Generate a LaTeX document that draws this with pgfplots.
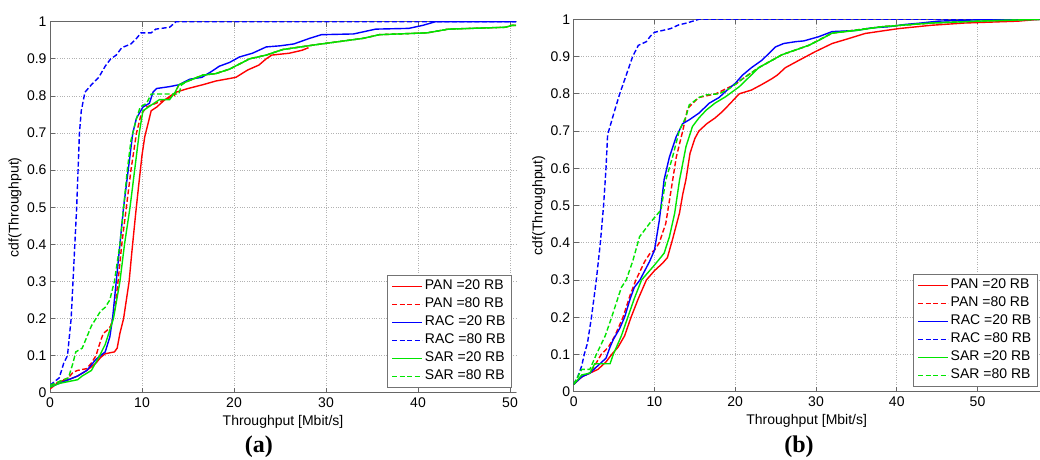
\documentclass[border=0pt]{standalone}
\usepackage{fontspec}
\setmainfont{Liberation Sans}
\newfontfamily\serifb{Liberation Serif}
\usepackage{pgfplots}
\pgfplotsset{compat=1.18}
\definecolor{mr}{rgb}{1,0,0}
\definecolor{mb}{rgb}{0,0,1}
\definecolor{mg}{rgb}{0,0.9,0}
\newcommand{\lblfont}{\fontsize{14}{16}\selectfont}
\newcommand{\tkfont}{\fontsize{14}{16}\selectfont}
\pgfplotsset{
  legend image code/.code={\draw[#1] (0pt,0pt) -- (30pt,0pt);},
  cdfaxis/.style={
    scale only axis, anchor=south west,
    xmin=0, ymin=0, ymax=1,
    xtick={0,10,20,30,40,50},
    ytick={0,0.1,0.2,0.3,0.4,0.5,0.6,0.7,0.8,0.9,1},
    yticklabels={0,0.1,0.2,0.3,0.4,0.5,0.6,0.7,0.8,0.9,1},
    grid=major, major grid style={dotted, black!30, line width=0.7pt},
    axis x line=box, axis y line=left,
    axis line style={black!60, line width=1pt, -},
    tick style={black!60, line width=0.8pt},
    major tick length=5pt, tick align=inside,
    tick label style={font=\tkfont},
    /pgf/number format/assume math mode=true,
    xticklabel style={yshift=-1pt},
    xlabel={Throughput [Mbit/s]},
    ylabel={cdf(Throughput)},
    every axis x label/.style={at={(rel axis cs:0.5,0)}, anchor=center, yshift=-29pt, font=\lblfont},
    every axis y label/.style={at={(rel axis cs:0,0.5)}, xshift=-35pt, rotate=90, anchor=center, font=\lblfont},
    legend cell align=left,
    legend style={font=\tkfont, draw=black!55, line width=1.2pt, text=black,
      anchor=south east, inner xsep=4pt, inner ysep=2pt,
      nodes={inner xsep=2pt, inner ysep=2.5pt, text height=10pt, text depth=3pt}},
  }
}
\begin{document}
\begin{tikzpicture}[x=1pt,y=1pt]
\path[use as bounding box] (0,0) rectangle (1040,459);
% ---------------- (a) ----------------
\begin{axis}[cdfaxis, at={(50pt,66.3pt)}, width=466pt, height=371pt, xmax=50.65,
  legend style={at={(rel axis cs:0.9915,0.0127)}}]
\addplot[color=mr, line width=1.4pt] coordinates {(0,0.01)(0.5,0.02)(1,0.03)(2,0.035)(3,0.045)(4,0.06)(5,0.08)(5.5,0.095)(6,0.105)(7,0.11)(7.3,0.12)(7.6,0.16)(8,0.2)(8.3,0.25)(8.6,0.3)(8.9,0.38)(9.3,0.48)(9.6,0.55)(10,0.64)(10.3,0.69)(10.6,0.72)(11,0.76)(11.6,0.77)(12.5,0.79)(13.7,0.81)(15,0.82)(16.6,0.83)(18,0.84)(20.2,0.85)(21.5,0.87)(22.7,0.883)(23.5,0.9)(24.1,0.91)(26,0.915)(27.4,0.923)(28.1,0.93)};
\addlegendentry{PAN =20 RB}
\addplot[color=mr, line width=1.4pt, dash pattern=on 5pt off 2.5pt] coordinates {(0,0.015)(1,0.03)(2,0.04)(2.5,0.055)(3,0.06)(4,0.065)(4.5,0.08)(5,0.1)(5.5,0.14)(5.8,0.16)(6.3,0.17)(6.6,0.18)(7,0.22)(7.4,0.3)(7.8,0.4)(8.3,0.5)(8.8,0.6)(9.4,0.7)(9.9,0.75)(10.5,0.77)(11.5,0.78)(12.5,0.79)(13.5,0.8)(14,0.83)(15,0.84)(16.6,0.856)(18,0.86)(19.5,0.872)(21.7,0.9)(23.5,0.91)(25.3,0.925)(28.9,0.938)(31,0.945)(34,0.955)(35.8,0.965)(41,0.97)(43.3,0.98)(49.5,0.985)(50.2,0.99)(50.65,0.99)};
\addlegendentry{PAN =80 RB}
\addplot[color=mb, line width=1.4pt] coordinates {(0,0.015)(1,0.025)(2,0.035)(3,0.045)(4,0.06)(5,0.09)(6,0.11)(6.5,0.15)(6.8,0.2)(7.2,0.3)(7.6,0.4)(8,0.5)(8.5,0.6)(9,0.7)(9.4,0.74)(10.1,0.77)(10.8,0.78)(11.2,0.81)(11.6,0.82)(13,0.825)(14,0.83)(15.2,0.845)(16.5,0.85)(17.5,0.865)(18.4,0.88)(19.5,0.89)(20.6,0.905)(22,0.915)(23.5,0.932)(25,0.935)(26.5,0.94)(28.2,0.955)(29.5,0.965)(33,0.967)(35.4,0.98)(39,0.982)(40.5,0.99)(41.9,1.0)(50.65,1.0)};
\addlegendentry{RAC =20 RB}
\addplot[color=mb, line width=1.4pt, dash pattern=on 5pt off 2.5pt] coordinates {(0,0.02)(1,0.04)(1.5,0.08)(1.9,0.1)(2.1,0.15)(2.3,0.2)(2.5,0.3)(2.7,0.4)(2.9,0.5)(3.05,0.6)(3.2,0.7)(3.4,0.76)(3.8,0.81)(4.5,0.83)(5.3,0.85)(6,0.88)(6.6,0.9)(7.2,0.91)(7.8,0.93)(8.8,0.94)(9.4,0.955)(9.9,0.97)(11,0.97)(11.5,0.98)(13,0.985)(13.7,1.0)(50.65,1.0)};
\addlegendentry{RAC =80 RB}
\addplot[color=mg, line width=1.4pt] coordinates {(0,0.015)(1,0.025)(2,0.03)(3,0.035)(3.5,0.045)(4.5,0.06)(5.4,0.1)(6,0.13)(6.9,0.2)(7.6,0.3)(8.1,0.4)(8.7,0.5)(9.2,0.6)(9.7,0.7)(10.1,0.76)(11,0.775)(11.9,0.79)(13,0.79)(13.6,0.81)(14,0.83)(15,0.84)(16.6,0.856)(18,0.86)(19.5,0.872)(21.7,0.9)(23.5,0.91)(25.3,0.925)(28.9,0.938)(31,0.945)(34,0.955)(35.8,0.965)(41,0.97)(43.3,0.98)(49.5,0.985)(50.2,0.99)(50.65,0.99)};
\addlegendentry{SAR =20 RB}
\addplot[color=mg, line width=1.4pt, dash pattern=on 5pt off 2.5pt] coordinates {(0,0.02)(1,0.03)(2,0.04)(2.5,0.08)(2.8,0.11)(3.5,0.12)(4,0.15)(4.5,0.18)(5,0.2)(5.5,0.22)(6,0.23)(6.5,0.25)(7,0.3)(7.3,0.35)(7.6,0.4)(8,0.5)(8.4,0.6)(8.8,0.68)(9.3,0.73)(9.8,0.77)(10.5,0.78)(11,0.805)(14,0.805)(14.3,0.83)(15,0.84)(16.6,0.856)(18,0.86)(19.5,0.872)(21.7,0.9)(23.5,0.91)(25.3,0.925)(28.9,0.938)(31,0.945)(34,0.955)(35.8,0.965)(41,0.97)(43.3,0.98)(49.5,0.985)(50.2,0.99)(50.65,0.99)};
\addlegendentry{SAR =80 RB}
\end{axis}
% ---------------- (b) ----------------
\begin{axis}[cdfaxis, at={(573.7pt,67.3pt)}, width=466pt, height=372.4pt, xmax=57.7,
  legend style={at={(rel axis cs:0.996,0.0126)}}]
\addplot[color=mr, line width=1.4pt] coordinates {(0,0.02)(1,0.04)(2,0.05)(3,0.06)(4,0.08)(4.7,0.1)(5.5,0.12)(6.3,0.15)(7.1,0.2)(8,0.25)(9,0.3)(10,0.325)(11,0.345)(11.6,0.36)(12.25,0.41)(13.1,0.48)(13.5,0.53)(13.9,0.57)(14.4,0.64)(15,0.68)(15.5,0.70)(16.5,0.72)(17.5,0.735)(18.4,0.752)(19.2,0.77)(20.5,0.80)(22,0.81)(23.3,0.825)(24.5,0.84)(25.2,0.85)(26.2,0.87)(27.9,0.89)(29.9,0.913)(32,0.935)(34,0.948)(36.1,0.962)(40.2,0.975)(44.3,0.984)(48.4,0.99)(55,0.995)(57.7,1.0)};
\addlegendentry{PAN =20 RB}
\addplot[color=mr, line width=1.4pt, dash pattern=on 5pt off 2.5pt] coordinates {(0,0.02)(1,0.04)(2,0.05)(2.6,0.07)(3.4,0.1)(4.3,0.12)(5.1,0.15)(6.1,0.2)(7,0.26)(7.7,0.3)(8.8,0.35)(9.4,0.37)(10,0.38)(10.6,0.40)(11.4,0.452)(12.05,0.54)(12.7,0.63)(13.5,0.70)(14.1,0.76)(15,0.78)(15.5,0.79)(17.6,0.80)(19,0.815)(20,0.825)(20.9,0.84)(22.9,0.87)(25.8,0.905)(29.1,0.93)(32,0.963)(38.1,0.98)(44.3,0.99)(50,0.995)(57.7,1.0)};
\addlegendentry{PAN =80 RB}
\addplot[color=mb, line width=1.4pt] coordinates {(0,0.02)(1,0.04)(2,0.05)(3,0.07)(4,0.09)(4.5,0.12)(4.9,0.14)(5.7,0.17)(6.3,0.2)(7,0.25)(7.5,0.28)(8.2,0.3)(9.4,0.35)(10,0.38)(10.6,0.46)(11.2,0.57)(11.85,0.63)(12.7,0.685)(13.5,0.72)(14.3,0.73)(15.5,0.748)(16.8,0.775)(18,0.79)(19,0.81)(20,0.828)(20.9,0.85)(22,0.87)(23.3,0.89)(25,0.926)(26,0.935)(27.5,0.94)(28.5,0.942)(30.3,0.953)(32,0.967)(35,0.97)(36.9,0.977)(39,0.98)(41,0.986)(43,0.99)(45.1,0.995)(50.5,0.999)(57.7,1.0)};
\addlegendentry{RAC =20 RB}
\addplot[color=mb, line width=1.4pt, dash pattern=on 5pt off 2.5pt] coordinates {(0,0.02)(0.5,0.04)(1,0.07)(1.3,0.1)(1.7,0.13)(2.2,0.2)(2.5,0.25)(2.8,0.3)(3.3,0.4)(3.7,0.5)(4,0.6)(4.2,0.69)(4.6,0.72)(5,0.75)(5.7,0.8)(6.5,0.85)(7.3,0.9)(8,0.93)(9,0.94)(9.5,0.955)(10,0.965)(11,0.97)(12,0.975)(13,0.985)(14,0.99)(15.5,1.0)(57.7,1.0)};
\addlegendentry{RAC =80 RB}
\addplot[color=mg, line width=1.4pt] coordinates {(0,0.02)(1,0.045)(2,0.05)(2.6,0.075)(4.5,0.075)(4.9,0.1)(5.9,0.15)(6.7,0.2)(7.5,0.25)(8.4,0.3)(10,0.34)(11.2,0.372)(11.85,0.416)(12.5,0.479)(13.1,0.568)(13.9,0.658)(14.7,0.712)(15.5,0.735)(16.4,0.756)(17.5,0.775)(18.8,0.792)(20.5,0.819)(21.5,0.84)(22.9,0.87)(25.8,0.905)(29.1,0.93)(30.5,0.945)(32,0.963)(35,0.97)(38.1,0.98)(44.3,0.99)(50,0.995)(57.7,1.0)};
\addlegendentry{SAR =20 RB}
\addplot[color=mg, line width=1.4pt, dash pattern=on 5pt off 2.5pt] coordinates {(0,0.02)(1,0.06)(2,0.06)(2.8,0.1)(3.9,0.15)(4.7,0.2)(5.9,0.28)(6.5,0.3)(7.3,0.35)(8.15,0.416)(9.4,0.452)(10.8,0.488)(11.4,0.568)(12.25,0.631)(13.1,0.703)(13.9,0.738)(14.3,0.77)(15.5,0.79)(16.4,0.797)(18,0.80)(19,0.81)(20,0.825)(20.9,0.84)(22.9,0.87)(25.8,0.905)(29.1,0.93)(32,0.963)(38.1,0.98)(44.3,0.99)(50,0.995)(57.7,1.0)};
\addlegendentry{SAR =80 RB}
\end{axis}
\node[font=\serifb\bfseries\fontsize{24}{26}\selectfont] at (258.8,12) {(a)};
\node[font=\serifb\bfseries\fontsize{24}{26}\selectfont] at (799,12) {(b)};
\end{tikzpicture}
\end{document}
